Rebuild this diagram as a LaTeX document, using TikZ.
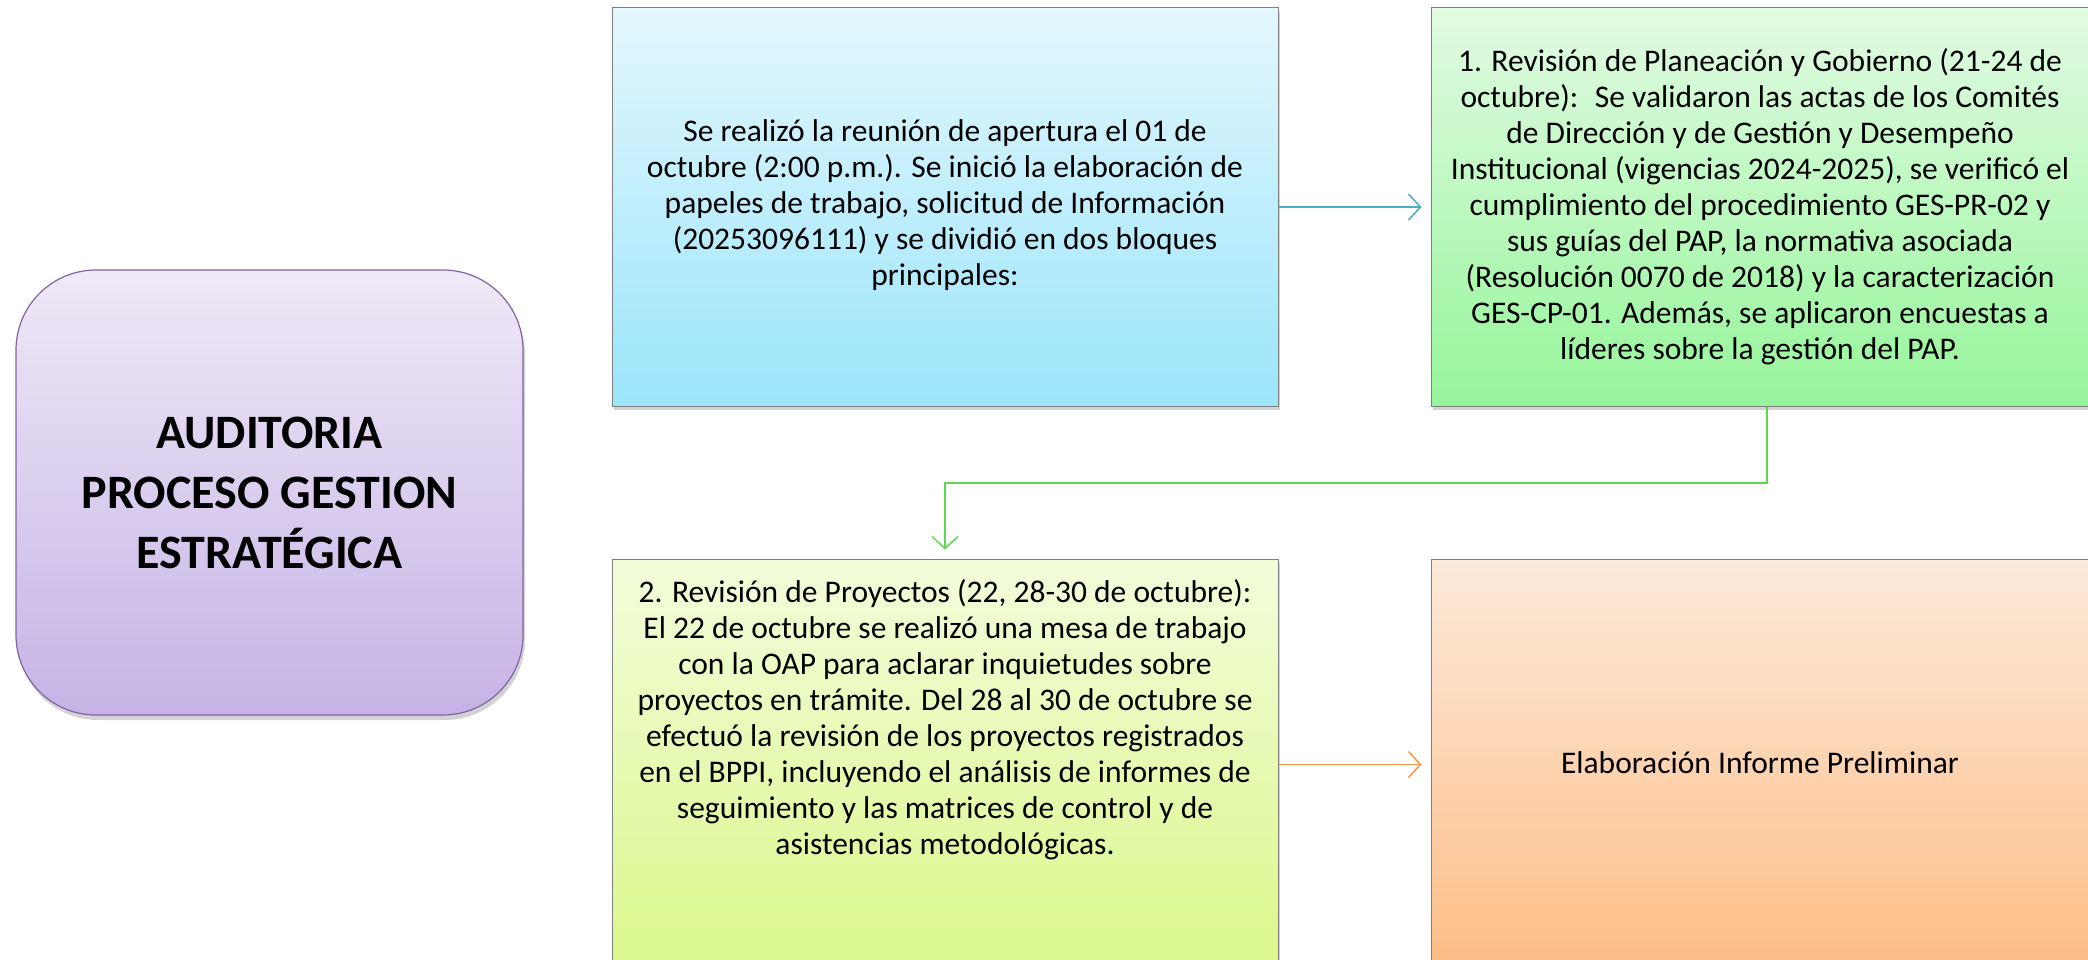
\documentclass[tikz,border=0pt]{standalone}
\usepackage{fontspec}
\setmainfont{Carlito}
\usetikzlibrary{arrows.meta,shadows,calc}
\definecolor{blueT}{HTML}{E3F7FD}
\definecolor{blueB}{HTML}{9BE5FB}
\definecolor{greenT}{HTML}{E2FBE3}
\definecolor{greenB}{HTML}{96F59A}
\definecolor{yelT}{HTML}{F3FCDB}
\definecolor{yelB}{HTML}{DAF88A}
\definecolor{orT}{HTML}{FDEADB}
\definecolor{orB}{HTML}{FDBD86}
\definecolor{purT}{HTML}{EFE9F7}
\definecolor{purB}{HTML}{C6B3E6}
\definecolor{boxline}{HTML}{7F7F7F}
\definecolor{purline}{HTML}{8064A2}
\definecolor{arrBlue}{HTML}{4BACC6}
\definecolor{arrGreen}{HTML}{5DD94F}
\definecolor{arrOrange}{HTML}{F79646}
\begin{document}
\begin{tikzpicture}[x=1pt,y=-1pt,
  box/.style={draw=boxline, line width=1pt, rectangle, inner sep=0pt,
    drop shadow={opacity=0.35, shadow xshift=2pt, shadow yshift=-4pt}},
  txt/.style={align=center, text=black, inner sep=0pt, font=\fontsize{31.5}{36}\selectfont},
  conn/.style={line width=1.5pt, -{Straight Barb[length=12pt,width=26pt]}, shorten >=9pt}
]
\useasboundingbox (0,0) rectangle (2088,960);

% title box
\node[draw=purline, line width=1.2pt, rounded corners=80pt, inner sep=0pt,
  top color=purT, bottom color=purB,
  drop shadow={opacity=0.35, shadow xshift=2pt, shadow yshift=-5pt},
  minimum width=507pt, minimum height=445pt] (t) at (269.5,492.5) {};
\node[align=center, inner sep=0pt, font=\fontsize{48}{60}\selectfont\bfseries] (tt) at (269.5,493)
  {AUDITORIA\\PROCESO GESTION\\ESTRATÉGICA};

% boxes
\node[box, top color=blueT, bottom color=blueB, minimum width=666pt, minimum height=398pt] (b1) at (945,207) {};
\node[box, top color=greenT, bottom color=greenB, minimum width=661pt, minimum height=398pt] (g1) at (1761.5,207) {};
\node[box, top color=yelT, bottom color=yelB, minimum width=666pt, minimum height=411pt] (y1) at (945,764.5) {};
\node[box, top color=orT, bottom color=orB, minimum width=661pt, minimum height=411pt] (o1) at (1761.5,764.5) {};

% texts
\node[txt] (b1t) at (945,205) {Se realizó la reunión de apertura el 01 de\\
octubre (2:00 p.m.). Se inició la elaboración de\\
papeles de trabajo, solicitud de Información\\
(20253096111) y se dividió en dos bloques\\
principales:};
\node[txt] (g1t) at (1760,207) {1. Revisión de Planeación y Gobierno (21-24 de\\
octubre):~ Se validaron las actas de los Comités\\
de Dirección y de Gestión y Desempeño\\
Institucional (vigencias 2024-2025), se verificó el\\
cumplimiento del procedimiento GES-PR-02 y\\
sus guías del PAP, la normativa asociada\\
(Resolución 0070 de 2018) y la caracterización\\
GES-CP-01. Además, se aplicaron encuestas a\\
líderes sobre la gestión del PAP.};
\node[txt] (y1t) at (945,720) {2. Revisión de Proyectos (22, 28-30 de octubre):\\
El 22 de octubre se realizó una mesa de trabajo\\
con la OAP para aclarar inquietudes sobre\\
proyectos en trámite. Del 28 al 30 de octubre se\\
efectuó la revisión de los proyectos registrados\\
en el BPPI, incluyendo el análisis de informes de\\
seguimiento y las matrices de control y de\\
asistencias metodológicas.};
\node[txt] (o1t) at (1760,763) {Elaboración Informe Preliminar};

% connectors
\draw[conn, arrBlue] (b1.east) -- (g1.west);
\draw[conn, arrOrange] (y1.east) -- (o1.west);
\coordinate (gdown) at (1767,483);
\draw[conn, arrGreen] (g1.south -| gdown) -- (gdown) -| (y1.north);
\end{tikzpicture}
\end{document}
